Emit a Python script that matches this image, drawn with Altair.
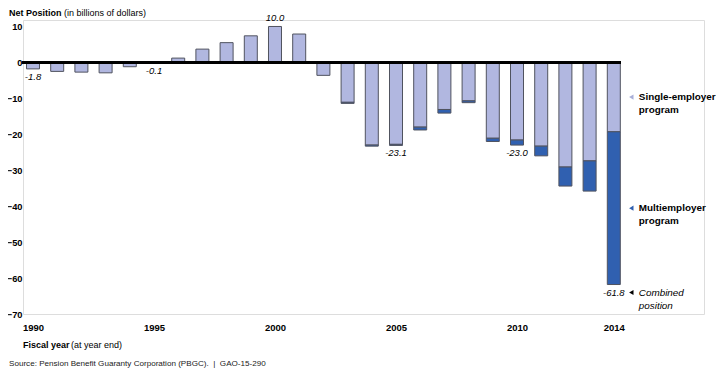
import altair as alt
import pandas as pd

years = list(range(1990, 2015))
single_employer = [-1.8, -2.5, -2.7, -2.9, -1.2, -0.1, 1.2, 3.7, 5.5, 7.4, 10.0, 7.9, -3.6,
                   -11.1, -23.0, -22.8, -18.0, -13.1, -10.7, -21.1, -21.6, -23.3, -29.1, -27.4, -19.3]
multiemployer = [0, 0, 0, 0, 0, 0, 0, 0, 0, 0, 0, 0, 0,
                 -0.3, -0.3, -0.3, -0.8, -1.0, -0.5, -0.9, -1.4, -2.7, -5.3, -8.4, -42.5]
labeled_years = [1990, 1995, 2000, 2005, 2010, 2014]
x_tick_years = [1990, 1995, 2000, 2005, 2010, 2014]
y_ticks = [-70, -60, -50, -40, -30, -20, -10, 0, 10]

LIGHT = "#b1b7e0"
DARK = "#3060b0"
STROKE = "#50535f"
FONT = "Liberation Sans"

df = pd.DataFrame({"year": years, "single": single_employer, "multi": multiemployer})
df["total"] = df["single"] + df["multi"]
df["zero"] = 0.0
df["label"] = df["total"].map(lambda v: f"{v:.1f}")
df["labeled"] = df["year"].isin(labeled_years)
df["single_mid"] = df["single"] / 2
df["multi_mid"] = (df["single"] + df["total"]) / 2

xscale = alt.Scale(domain=[1989.587, 2017.727], nice=False, zero=False, padding=0)
yscale = alt.Scale(domain=[-70, 11.8], nice=False, zero=False, padding=0)

x_axis = alt.Axis(values=x_tick_years, format="d", title=None, ticks=False, domain=False,
                  grid=False, labelFont=FONT, labelFontWeight="bold", labelFontSize=9.5,
                  labelColor="#000", labelPadding=8, labelOverlap=False)
y_axis = alt.Axis(values=y_ticks, format="d", title=None, ticks=False, domain=False, grid=False,
                  labelFont=FONT, labelFontWeight="bold", labelFontSize=9.3,
                  labelColor="#000", labelPadding=1, labelOverlap=False)


def X(field="year:Q"):
    return alt.X(field, scale=xscale, axis=x_axis)


def Y(field):
    return alt.Y(field, scale=yscale, axis=y_axis)


base = alt.Chart(df)

single_bars = base.mark_bar(width=13, color=LIGHT, stroke=STROKE, strokeWidth=1).encode(
    x=X(), y=Y("zero:Q"), y2="single:Q")

multi_bars = base.transform_filter("datum.multi != 0").mark_bar(
    width=13, color=DARK, stroke=STROKE, strokeWidth=1).encode(
    x=X(), y=Y("single:Q"), y2="total:Q")

zero_rule = base.mark_rule(color="#000", strokeWidth=2.5).encode(
    y=Y("zero:Q"), x=alt.value(-1), x2=alt.value(598))

text_common = dict(font=FONT, fontStyle="italic", fontSize=9.5, color="#000")
neg_labels = base.transform_filter("datum.labeled && datum.total < 0").mark_text(
    baseline="middle", dy=8, **text_common).encode(
    x=X(), y=Y("total:Q"), text="label:N")
pos_labels = base.transform_filter("datum.labeled && datum.total >= 0").mark_text(
    baseline="middle", dy=-8, **text_common).encode(
    x=X(), y=Y("total:Q"), text="label:N")

last = base.transform_filter(f"datum.year == {years[-1]}")


def legend_item(field, color, line1, line2, italic, dy):
    weight = "normal" if italic else "bold"
    style = "italic" if italic else "normal"
    tri = last.mark_point(shape="triangle-left", filled=True, size=26, color=color,
                          opacity=1).encode(
        x=X(), y=Y(f"{field}:Q"),
        xOffset=alt.value(17.5), yOffset=alt.value(dy))
    t1 = last.mark_text(align="left", baseline="middle", dx=25, dy=dy, font=FONT, fontSize=9.9,
                        fontWeight=weight, fontStyle=style, color="#000", text=line1).encode(
        x=X(), y=Y(f"{field}:Q"))
    t2 = last.mark_text(align="left", baseline="middle", dx=25, dy=dy + 13, font=FONT, fontSize=9.9,
                        fontWeight=weight, fontStyle=style, color="#000", text=line2).encode(
        x=X(), y=Y(f"{field}:Q"))
    return [tri, t1, t2]


legend_layers = (legend_item("single_mid", "#a9afd8", "Single-employer", "program", False, 0)
                 + legend_item("multi_mid", DARK, "Multiemployer", "program", False, 0)
                 + legend_item("total", "#000", "Combined", "position", True, 8))


def static_text(txt, x, y, size=9, weight="normal", color="#000"):
    return alt.Chart(pd.DataFrame({"t": [txt]})).mark_text(
        align="left", baseline="middle", font=FONT, fontSize=size, fontWeight=weight,
        color=color).encode(x=alt.value(x), y=alt.value(y), text="t:N")


title_layers = [
    static_text("Net Position", -14, -7, 9, "bold"),
    static_text("(in billions of dollars)", 41, -7, 9),
    static_text("Fiscal year", 0, 325, 9, "bold"),
    static_text("(at year end)", 48, 325, 9),
    static_text("Source: Pension Benefit Guaranty Corporation (PBGC).\u00a0\u00a0|\u00a0\u00a0GAO-15-290",
                -14, 344, 8.1, "normal", "#222"),
]

chart = alt.layer(single_bars, multi_bars, zero_rule, neg_labels, pos_labels,
                  *legend_layers, *title_layers).properties(
    width=681, height=294,
    autosize=alt.AutoSizeParams(type="none"),
    padding={"left": 15, "top": 12, "right": 12, "bottom": 60},
).configure_view(stroke=None).configure_axis(labelOverlap=False).configure(background="#ffffff")

chart.save("out.html", embed_options={"renderer": "svg", "actions": False})
